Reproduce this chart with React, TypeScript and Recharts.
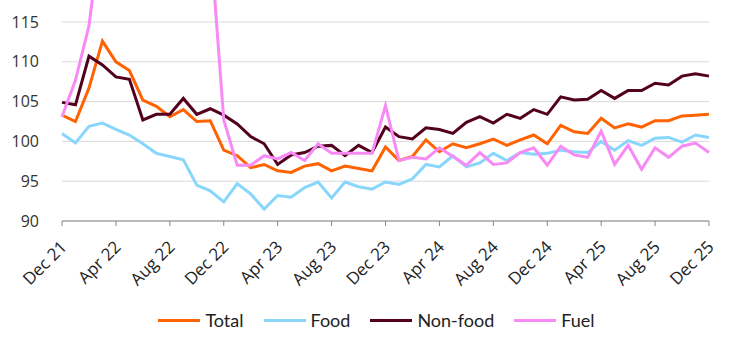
import React from "react";
import { LineChart, Line, XAxis, YAxis, CartesianGrid, Legend } from "recharts";

const months = [
  "Dec 21","Jan 22","Feb 22","Mar 22","Apr 22","May 22","Jun 22","Jul 22","Aug 22","Sep 22","Oct 22","Nov 22",
  "Dec 22","Jan 23","Feb 23","Mar 23","Apr 23","May 23","Jun 23","Jul 23","Aug 23","Sep 23","Oct 23","Nov 23",
  "Dec 23","Jan 24","Feb 24","Mar 24","Apr 24","May 24","Jun 24","Jul 24","Aug 24","Sep 24","Oct 24","Nov 24",
  "Dec 24","Jan 25","Feb 25","Mar 25","Apr 25","May 25","Jun 25","Jul 25","Aug 25","Sep 25","Oct 25","Nov 25",
  "Dec 25",
];

const total = [103.3,102.5,106.7,112.6,110.0,108.9,105.2,104.4,103.1,104.0,102.5,102.6,98.9,98.2,96.7,97.1,96.3,96.1,96.9,97.2,96.3,96.9,96.6,96.3,99.3,97.6,98.1,100.2,98.7,99.7,99.2,99.7,100.3,99.5,100.2,100.8,99.7,102.0,101.2,101.0,102.9,101.7,102.2,101.8,102.6,102.6,103.2,103.3,103.4];
const food = [101.0,99.8,101.9,102.3,101.5,100.8,99.7,98.5,98.1,97.7,94.5,93.8,92.4,94.7,93.4,91.5,93.2,93.0,94.2,94.9,92.9,94.9,94.3,94.0,94.9,94.6,95.3,97.1,96.8,98.2,96.8,97.3,98.5,97.6,98.6,98.4,98.5,98.9,98.7,98.6,100.0,98.9,100.1,99.5,100.4,100.5,99.9,100.8,100.5];
const nonFood = [104.9,104.6,110.7,109.6,108.1,107.8,102.7,103.4,103.4,105.4,103.4,104.1,103.3,102.2,100.6,99.7,97.1,98.3,98.6,99.4,99.5,98.2,99.5,98.6,101.8,100.6,100.3,101.7,101.5,101.0,102.4,103.1,102.3,103.4,102.9,104.0,103.4,105.6,105.2,105.3,106.4,105.4,106.4,106.4,107.3,107.1,108.2,108.5,108.2];
const fuel = [103.1,107.7,114.5,128,131,134,132,129,127,124,126,125.5,102.7,97.0,97.0,98.2,97.8,98.6,97.6,99.7,98.5,98.5,98.5,98.5,104.5,97.6,98.0,97.8,99.2,98.1,97.0,98.6,97.1,97.3,98.6,99.2,97.0,99.4,98.3,98.0,101.3,97.1,99.5,96.5,99.2,98.0,99.4,99.8,98.6];

const yTicks = [90, 95, 100, 105, 110, 115];

const series = [
  { key: "total", name: "Total", color: "#FF6200" },
  { key: "food", name: "Food", color: "#89D6FD" },
  { key: "nonFood", name: "Non-food", color: "#52001E" },
  { key: "fuel", name: "Fuel", color: "#F88AF5" },
];

const data = months.map((m, i) => ({
  month: m,
  total: total[i],
  food: food[i],
  nonFood: nonFood[i],
  fuel: fuel[i],
}));

const XTick = (props: any) => {
  const { x, y, payload } = props;
  const ax = x + 6;
  const ay = y + 20;
  return (
    <text
      x={ax}
      y={ay}
      textAnchor="end"
      transform={`rotate(-45, ${ax}, ${ay})`}
      fontFamily="Open Sans"
      fontSize={17}
      fill="#222"
    >
      {payload.value}
    </text>
  );
};

const LegendContent = () => (
  <div
    style={{
      display: "flex",
      justifyContent: "center",
      alignItems: "center",
      fontFamily: "Lato",
      fontSize: 18,
      color: "#222",
      height: 38,
      paddingLeft: 4,
    }}
  >
    {series.map((s, i) => (
      <div key={s.key} style={{ display: "flex", alignItems: "center", marginLeft: i === 0 ? 0 : 20 }}>
        <div style={{ width: 42, height: 3, background: s.color, marginRight: 5 }} />
        <span>{s.name}</span>
      </div>
    ))}
  </div>
);

export default function App() {
  return (
    <div style={{ position: "absolute", left: 0, top: 0, width: 749, height: 349 }}>
      <style>{`.recharts-line, .recharts-line * { clip-path: none !important; }`}</style>
      <LineChart
        width={749}
        height={349}
        data={data}
        margin={{ top: 22, right: 40, bottom: 0, left: 0 }}
      >
        <CartesianGrid vertical={false} stroke="#d9d9d9" strokeWidth={1} />
        <XAxis
          dataKey="month"
          interval={3}
          height={80}
          tickSize={5}
          axisLine={{ stroke: "#888", strokeWidth: 1 }}
          tickLine={{ stroke: "#888", strokeWidth: 1 }}
          tick={<XTick />}
        />
        <YAxis
          domain={[90, 115]}
          ticks={yTicks}
          allowDataOverflow
          width={62}
          axisLine={false}
          tickLine={false}
          tickMargin={17}
          tick={{ fontFamily: "Open Sans", fontSize: 16, fill: "#333" }}
        />
        <Legend
          verticalAlign="bottom"
          height={48}
          wrapperStyle={{ left: 0, width: 749, top: 301 }}
          content={<LegendContent />}
        />
        {series.map((s) => (
          <Line
            key={s.key}
            type="linear"
            dataKey={s.key}
            name={s.name}
            stroke={s.color}
            strokeWidth={3}
            dot={false}
            activeDot={false}
            isAnimationActive={false}
          />
        ))}
      </LineChart>
    </div>
  );
}
